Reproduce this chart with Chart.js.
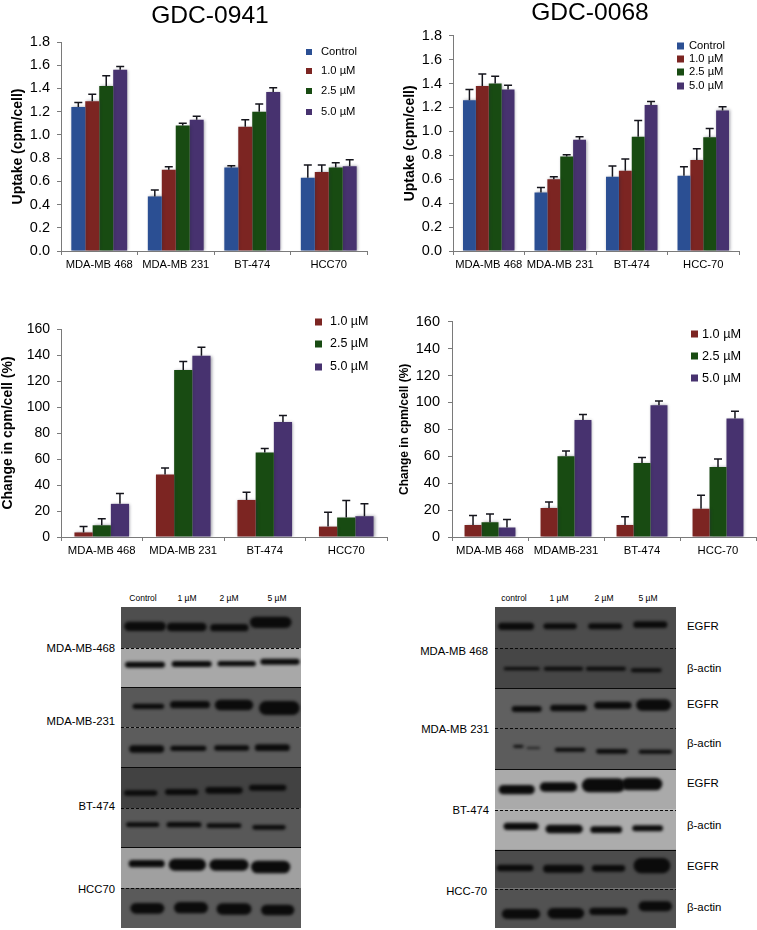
<!DOCTYPE html>
<html>
<head>
<meta charset="utf-8">
<title>GDC-0941 / GDC-0068</title>
<script src="https://cdn.jsdelivr.net/npm/chart.js@4/dist/chart.umd.min.js"></script>
<style>
  html, body { margin: 0; background: #fff; }
  body { position: relative; width: 757px; height: 930px; overflow: hidden; font-family: "Liberation Sans", Arial, sans-serif; color: #000; }
  canvas { position: absolute; }
  .t { position: absolute; white-space: nowrap; line-height: 1; transform: translateY(-50%); }
</style>
</head>
<body>
<canvas id="chartA" width="392" height="270" style="left:0;top:25px"></canvas>
<canvas id="chartB" width="362" height="270" style="left:395px;top:20px"></canvas>
<canvas id="chartC" width="392" height="265" style="left:0;top:305px"></canvas>
<canvas id="chartD" width="362" height="265" style="left:395px;top:305px"></canvas>
<canvas id="gelA" width="180" height="321" style="left:121px;top:607px"></canvas>
<canvas id="gelB" width="181" height="321" style="left:495px;top:607px"></canvas>
<script>
"use strict";

// top row, uptake
var cellsA = ["MDA-MB 468", "MDA-MB 231", "BT-474", "HCC70"];
var cellsB = ["MDA-MB 468", "MDA-MB 231", "BT-474", "HCC-70"];
var uptakeTicks = ["0.0", "0.2", "0.4", "0.6", "0.8", "1.0", "1.2", "1.4", "1.6", "1.8"];

var a_control = [1.24, 0.47, 0.72, 0.63];
var a_one = [1.29, 0.70, 1.07, 0.68];
var a_twoFive = [1.42, 1.08, 1.20, 0.72];
var a_five = [1.56, 1.13, 1.37, 0.73];
var a_controlTop = [1.28, 0.525, 0.735, 0.74];
var a_oneTop = [1.35, 0.725, 1.13, 0.74];
var a_twoFiveTop = [1.51, 1.10, 1.265, 0.76];
var a_fiveTop = [1.59, 1.16, 1.405, 0.785];

var b_control = [1.26, 0.49, 0.62, 0.63];
var b_one = [1.38, 0.60, 0.67, 0.76];
var b_twoFive = [1.40, 0.79, 0.955, 0.95];
var b_five = [1.35, 0.93, 1.22, 1.175];
var b_controlTop = [1.35, 0.53, 0.71, 0.705];
var b_oneTop = [1.48, 0.62, 0.77, 0.855];
var b_twoFiveTop = [1.46, 0.805, 1.09, 1.025];
var b_fiveTop = [1.385, 0.955, 1.25, 1.205];

// middle row, change
var cellsC = ["MDA-MB 468", "MDA-MB 231", "BT-474", "HCC70"];
var cellsD = ["MDA-MB 468", "MDAMB-231", "BT-474", "HCC-70"];
var changeTicks = ["0", "20", "40", "60", "80", "100", "120", "140", "160"];

var c_one = [3.5, 48, 28.5, 8];
var c_twoFive = [9, 128.5, 65, 15];
var c_five = [25.5, 139.5, 88.5, 16];
var c_oneTop = [8, 53, 34.5, 19];
var c_twoFiveTop = [14, 135, 68, 28];
var c_fiveTop = [33.5, 146, 93.5, 25.5];

var d_one = [9, 21.5, 9, 21];
var d_twoFive = [11, 60, 55, 52];
var d_five = [7, 87, 98, 88];
var d_oneTop = [16, 26, 15, 31];
var d_twoFiveTop = [17, 64, 59, 58];
var d_fiveTop = [13, 91, 101, 93.5];

var doseNames = ["Control", "1.0 µM", "2.5 µM", "5.0 µM"];
var doseColors = ["#2b4f93", "#7c2522", "#184b12", "#47326f"];

// blots: x,y,w,h read in units of a third of a pixel
var gelEdgesA = [82, 205, 323, 443, 563, 685, 803, 925, 1045];
var gelGraysA = [78, 168, 88, 92, 66, 88, 160, 90];
var gelSolidA = [323, 563, 803];
var gelDashA = [205, 443, 685, 925];
var bandsA = [
  [345, 140, 125, 28], [470, 142, 120, 26], [598, 144, 115, 22], [722, 128, 125, 34],
  [345, 255, 120, 18], [485, 253, 120, 18], [620, 252, 115, 16], [750, 246, 118, 18],
  [355, 380, 95, 16], [480, 375, 120, 22], [612, 376, 115, 32], [748, 385, 122, 42],
  [350, 508, 105, 22], [475, 506, 108, 16], [605, 505, 105, 16], [727, 504, 105, 20],
  [332, 640, 100, 16], [455, 637, 100, 18], [582, 632, 112, 20], [713, 624, 112, 18],
  [338, 735, 100, 14], [462, 735, 105, 16], [582, 738, 105, 14], [717, 743, 100, 14],
  [350, 852, 108, 22], [472, 855, 112, 36], [597, 856, 118, 34], [722, 862, 118, 38],
  [352, 986, 102, 32], [483, 984, 102, 34], [612, 988, 105, 34], [743, 991, 100, 32]
];
var gelEdgesB = [82, 205, 325, 445, 568, 690, 810, 927, 1045];
var gelGraysB = [76, 70, 96, 92, 170, 172, 76, 82];
var gelSolidB = [325, 568, 810];
var gelDashB = [205, 445, 690, 927];
var bandsB = [
  [318, 140, 108, 22], [450, 140, 100, 18], [585, 140, 102, 18], [720, 135, 102, 20],
  [335, 267, 108, 10], [460, 267, 118, 12], [587, 267, 120, 12], [708, 272, 92, 12],
  [350, 388, 90, 18], [475, 385, 110, 20], [608, 377, 112, 22], [730, 376, 105, 34],
  [325, 500, 30, 8], [370, 505, 40, 5], [480, 510, 92, 12], [605, 515, 95, 14], [735, 516, 100, 12],
  [320, 630, 108, 28], [445, 622, 112, 28], [580, 617, 130, 42], [695, 613, 122, 38],
  [333, 740, 105, 22], [462, 748, 112, 26], [588, 750, 95, 20], [712, 746, 92, 18],
  [315, 865, 110, 20], [460, 867, 122, 24], [595, 866, 100, 20], [725, 858, 110, 46],
  [333, 1003, 115, 30], [467, 1001, 110, 32], [595, 995, 115, 22], [735, 980, 100, 30]
];

var fontName = '"Liberation Sans", Arial, sans-serif';

// upward error bars and the drop shadow under the bars
var barExtras = {
  id: "barExtras",
  beforeDatasetsDraw: function(chart) {
    var ctx = chart.ctx;
    ctx.save();
    ctx.shadowColor = "rgba(40,40,60,0.45)";
    ctx.shadowBlur = 3;
    ctx.shadowOffsetX = 1;
    ctx.shadowOffsetY = 0;
  },
  afterDatasetsDraw: function(chart) {
    var ctx = chart.ctx;
    ctx.restore();
    ctx.save();
    ctx.strokeStyle = "#15151c";
    ctx.lineWidth = 1.5;
    chart.data.datasets.forEach(function(ds, d) {
      chart.getDatasetMeta(d).data.forEach(function(bar, i) {
        var top = chart.scales.y.getPixelForValue(ds.errTop[i]);
        ctx.beginPath();
        ctx.moveTo(bar.x, bar.y);
        ctx.lineTo(bar.x, top);
        ctx.moveTo(bar.x - 4, top);
        ctx.lineTo(bar.x + 4, top);
        ctx.stroke();
      });
    });
    ctx.restore();
  },
  afterDraw: function(chart, args, opts) {
    var ctx = chart.ctx;
    ctx.save();
    ctx.font = opts.font + "px " + fontName;
    ctx.textBaseline = "middle";
    chart.data.datasets.forEach(function(ds, d) {
      var y = opts.rows[d];
      ctx.fillStyle = ds.backgroundColor;
      ctx.fillRect(opts.left, y - opts.size / 2, opts.size, opts.size);
      ctx.fillStyle = "#000";
      ctx.fillText(ds.label, opts.textLeft, y);
    });
    ctx.restore();
  }
};

function barChart(id, p) {
  var el = document.getElementById(id);
  var box = { left: el.offsetLeft, top: el.offsetTop, w: el.width, h: el.height };
  var sets = p.values.map(function(vals, i) {
    var off = doseNames.length - p.values.length;
    return {
      label: doseNames[i + off],
      data: vals,
      errTop: p.tops[i],
      backgroundColor: doseColors[i + off],
      borderWidth: 0,
      categoryPercentage: p.groupWidth,
      barPercentage: 1
    };
  });
  return new Chart(el, {
    type: "bar",
    data: { labels: p.cells, datasets: sets },
    plugins: [barExtras],
    options: {
      responsive: false,
      animation: false,
      events: [],
      layout: { padding: { top: p.plot[1] - box.top, right: box.left + box.w - p.plot[2], left: 0, bottom: 0 } },
      plugins: {
        legend: { display: false },
        tooltip: { enabled: false },
        barExtras: p.legend
      },
      scales: {
        x: {
          offset: true,
          grid: { offset: true, drawOnChartArea: false, tickLength: 4, tickColor: "#7a7a7a" },
          border: { color: "#7a7a7a" },
          ticks: { color: "#000", font: { family: fontName, size: p.xFont }, autoSkip: false, maxRotation: 0, padding: p.xPad },
          afterFit: function(s) { s.height = box.top + box.h - p.plot[3]; }
        },
        y: {
          min: 0,
          max: p.max,
          grid: { drawOnChartArea: false, tickLength: 4, tickColor: "#7a7a7a" },
          border: { color: "#7a7a7a" },
          ticks: {
            stepSize: p.step,
            color: "#000",
            padding: p.yPad,
            font: { family: fontName, size: p.yFont },
            callback: function(v, i) { return p.yTicks[i]; }
          },
          title: {
            display: true,
            text: p.yTitle,
            color: "#000",
            font: { family: fontName, size: p.titleFont, weight: "bold" },
            padding: { top: p.titleLeft, bottom: 0 }
          },
          afterFit: function(s) { s.width = p.plot[0] - box.left; }
        }
      }
    }
  });
}

barChart("chartA", {
  cells: cellsA, values: [a_control, a_one, a_twoFive, a_five], tops: [a_controlTop, a_oneTop, a_twoFiveTop, a_fiveTop],
  plot: [61, 42, 367, 251], max: 1.8, step: 0.2, yTicks: uptakeTicks, yTitle: "Uptake (cpm/cell)", groupWidth: 0.73,
  yFont: 14.5, xFont: 11.2, titleFont: 14, titleLeft: 10, xPad: 3, yPad: 7,
  legend: { left: 306, textLeft: 321, rows: [27, 46, 66, 87], size: 6, font: 11.2 }
});
barChart("chartB", {
  cells: cellsB, values: [b_control, b_one, b_twoFive, b_five], tops: [b_controlTop, b_oneTop, b_twoFiveTop, b_fiveTop],
  plot: [453, 33, 739, 251], max: 1.8, step: 0.2, yTicks: uptakeTicks, yTitle: "Uptake (cpm/cell)", groupWidth: 0.72,
  yFont: 14.5, xFont: 11.2, titleFont: 14, titleLeft: 7, xPad: 3, yPad: 7,
  legend: { left: 282, textLeft: 294, rows: [26, 39, 52, 66], size: 7, font: 11.2 }
});
barChart("chartC", {
  cells: cellsC, values: [c_one, c_twoFive, c_five], tops: [c_oneTop, c_twoFiveTop, c_fiveTop],
  plot: [61, 329, 387, 537], max: 160, step: 20, yTicks: changeTicks, yTitle: "Change in cpm/cell (%)", groupWidth: 0.67,
  yFont: 14, xFont: 11.3, titleFont: 14, titleLeft: 0, xPad: 3, yPad: 7,
  legend: { left: 315, textLeft: 330, rows: [17, 39, 62], size: 7, font: 12.5 }
});
barChart("chartD", {
  cells: cellsD, values: [d_one, d_twoFive, d_five], tops: [d_oneTop, d_twoFiveTop, d_fiveTop],
  plot: [452, 321, 756, 537], max: 160, step: 20, yTicks: changeTicks, yTitle: "Change in cpm/cell (%)", groupWidth: 0.67,
  yFont: 14.5, xFont: 11.3, titleFont: 12, titleLeft: 2, xPad: 3, yPad: 8,
  legend: { left: 296, textLeft: 307, rows: [29, 51, 73], size: 7, font: 12.7 }
});

// gel sections, separators and blurred bands, all placed through the chart's scales
var gelPainter = {
  id: "gelPainter",
  beforeDatasetsDraw: function(chart, args, opts) {
    var ctx = chart.ctx, sy = chart.scales.y, area = chart.chartArea;
    opts.grays.forEach(function(g, i) {
      var y0 = sy.getPixelForValue(opts.edges[i]);
      var y1 = sy.getPixelForValue(opts.edges[i + 1]);
      ctx.fillStyle = "rgb(" + g + "," + g + "," + g + ")";
      ctx.fillRect(area.left, y0, area.right - area.left, y1 - y0);
    });
  },
  afterDatasetsDraw: function(chart, args, opts) {
    var ctx = chart.ctx, sx = chart.scales.x, sy = chart.scales.y, area = chart.chartArea;
    ctx.save();
    ctx.filter = "blur(1.6px)";
    ctx.fillStyle = "#0b0b0b";
    chart.getDatasetMeta(0).data.forEach(function(pt, i) {
      var raw = chart.data.datasets[0].data[i];
      var w = sx.getPixelForValue(raw.x + raw.w / 2) - sx.getPixelForValue(raw.x - raw.w / 2);
      var h = Math.abs(sy.getPixelForValue(raw.y + raw.h / 2) - sy.getPixelForValue(raw.y - raw.h / 2));
      ctx.beginPath();
      ctx.roundRect(pt.x - w / 2, pt.y - h / 2, w, h, h / 2);
      ctx.fill();
    });
    ctx.restore();
    ctx.save();
    ctx.strokeStyle = "#0a0a0a";
    ctx.lineWidth = 1;
    opts.solid.forEach(function(v) {
      var y = Math.round(sy.getPixelForValue(v)) + 0.5;
      ctx.beginPath(); ctx.moveTo(area.left, y); ctx.lineTo(area.right, y); ctx.stroke();
    });
    ctx.setLineDash([3, 2]);
    opts.dash.forEach(function(v) {
      var y = Math.round(sy.getPixelForValue(v)) + 0.5;
      ctx.beginPath(); ctx.moveTo(area.left, y); ctx.lineTo(area.right, y); ctx.stroke();
    });
    ctx.restore();
  }
};

function gelChart(id, bands, xMin, xMax, edges, grays, solid, dash) {
  var pts = bands.map(function(b) { return { x: b[0], y: b[1], w: b[2], h: b[3] }; });
  return new Chart(document.getElementById(id), {
    type: "scatter",
    data: { datasets: [{ data: pts, pointRadius: 0 }] },
    plugins: [gelPainter],
    options: {
      responsive: false,
      animation: false,
      events: [],
      plugins: {
        legend: { display: false },
        tooltip: { enabled: false },
        gelPainter: { edges: edges, grays: grays, solid: solid, dash: dash }
      },
      scales: {
        x: { display: false, min: xMin, max: xMax },
        y: { display: false, min: 82, max: 1045, reverse: true }
      }
    }
  });
}

gelChart("gelA", bandsA, 273, 813, gelEdgesA, gelGraysA, gelSolidA, gelDashA);
gelChart("gelB", bandsB, 255, 797, gelEdgesB, gelGraysB, gelSolidB, gelDashB);

// page text: [string, x, y, size, anchor, bold]
var pageText = [
  ["GDC-0941", 210, 15, 24.6, "c"], ["GDC-0068", 590, 12, 24.6, "c"],
  ["Control", 143, 598, 8.5, "c", 1], ["1 µM", 187, 598, 8.5, "c", 1], ["2 µM", 229, 598, 8.5, "c", 1], ["5 µM", 277, 598, 8.5, "c", 1],
  ["MDA-MB-468", 115, 649, 11.3, "r"], ["MDA-MB-231", 115, 722, 11.3, "r"], ["BT-474", 115, 807, 11.3, "r"], ["HCC70", 115, 890, 11.3, "r"],
  ["control", 514, 598, 8.5, "c", 1], ["1 µM", 559, 598, 8.5, "c", 1], ["2 µM", 604, 598, 8.5, "c", 1], ["5 µM", 648, 598, 8.5, "c", 1],
  ["MDA-MB 468", 488, 652, 11.3, "r"], ["MDA-MB 231", 489, 730, 11.3, "r"], ["BT-474", 489, 811, 11.3, "r"], ["HCC-70", 487, 892, 11.3, "r"],
  ["EGFR", 687, 627, 11.4, "l"], ["β-actin", 687, 669, 11.4, "l"], ["EGFR", 687, 705, 11.4, "l"], ["β-actin", 687, 744, 11.4, "l"],
  ["EGFR", 687, 784, 11.4, "l"], ["β-actin", 687, 826, 11.4, "l"], ["EGFR", 687, 867, 11.4, "l"], ["β-actin", 687, 908, 11.4, "l"]
];
pageText.forEach(function(t) {
  var d = document.createElement("div");
  d.className = "t";
  d.textContent = t[0];
  d.style.top = t[2] + "px";
  d.style.fontSize = t[3] + "px";
  if (t[4] === "r") {
    d.style.right = (757 - t[1]) + "px";
  } else {
    d.style.left = t[1] + "px";
    if (t[4] === "c") { d.style.transform = "translate(-50%,-50%)"; }
  }
  document.body.appendChild(d);
});
</script>
</body>
</html>
